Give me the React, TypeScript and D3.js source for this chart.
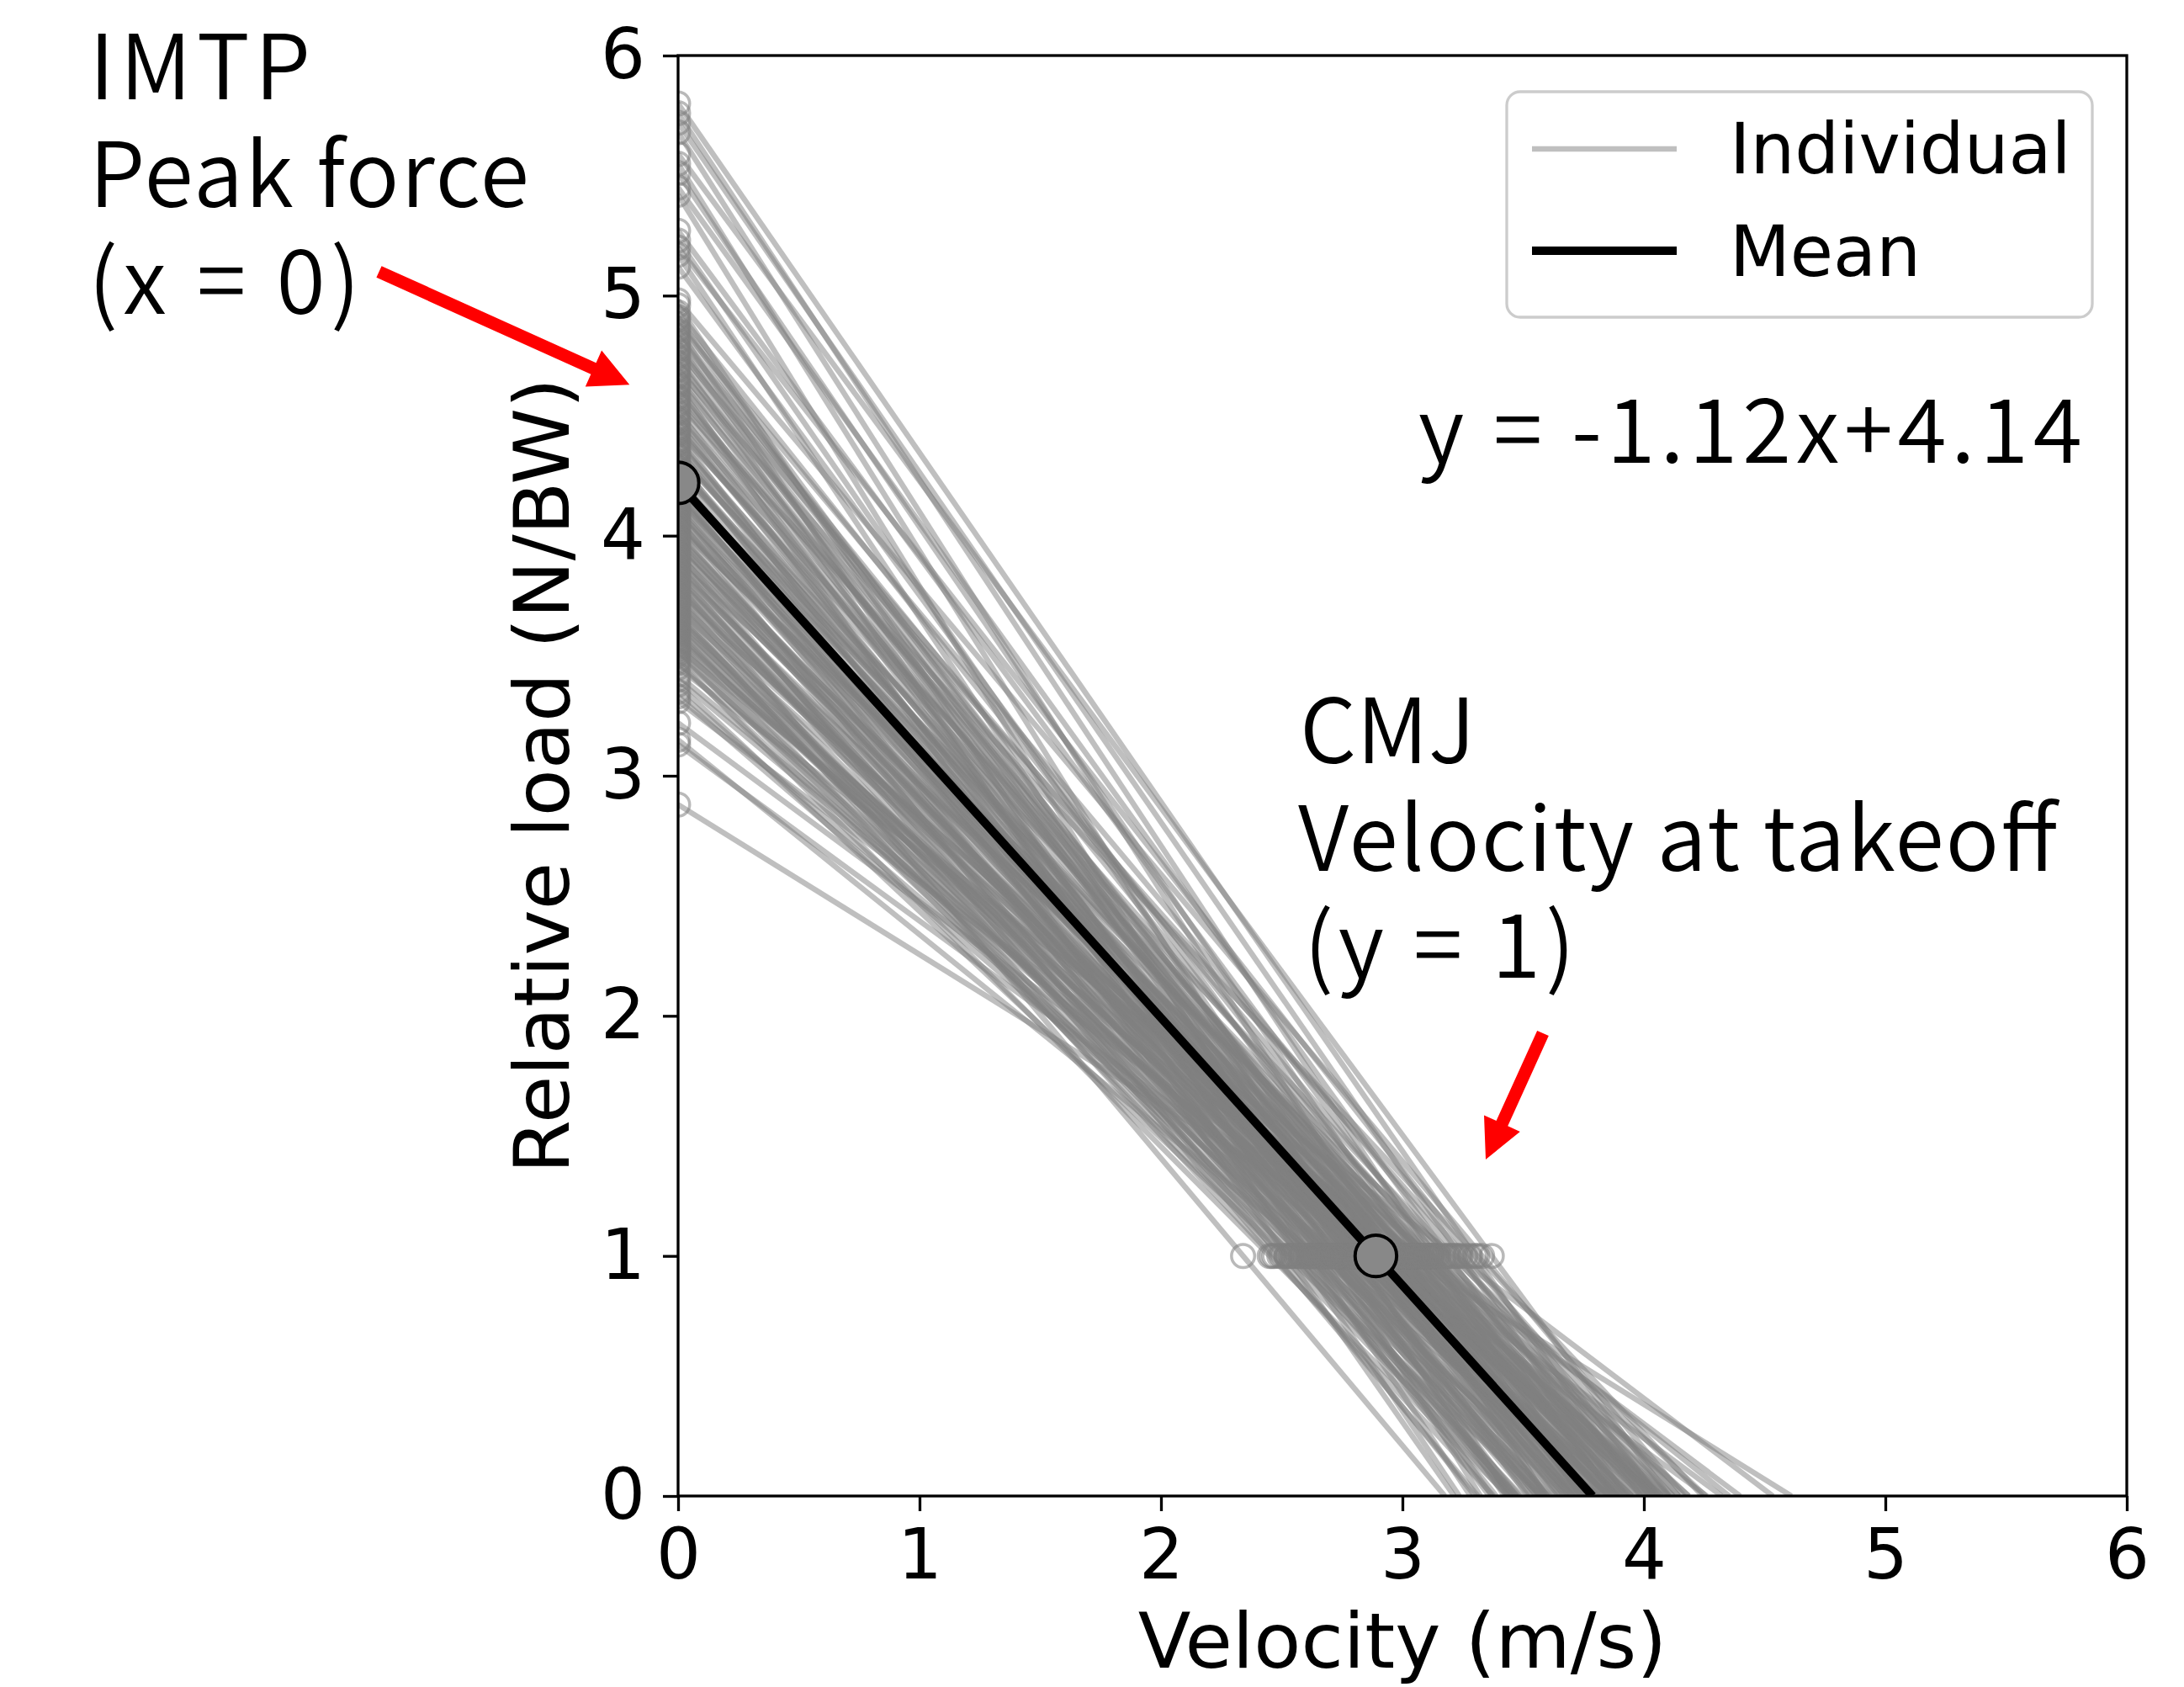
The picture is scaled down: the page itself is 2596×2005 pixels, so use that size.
import React, { useEffect, useRef } from "react";
import * as d3 from "d3";

// IMTP peak force per athlete, relative to body weight (y at x = 0)
const imtpForce = [
  5.80, 5.76, 5.72, 5.68, 5.59, 5.55, 5.51, 5.45, 5.42, 5.27, 5.23, 5.20, 5.17, 5.12,
  4.98, 4.96, 4.93, 4.91, 4.88, 4.86, 4.85, 4.83, 4.80, 4.78, 4.77, 4.74, 4.72, 4.70,
  4.69, 4.66, 4.64, 4.63, 4.60, 4.58, 4.57, 4.55, 4.52, 4.51, 4.49, 4.47, 4.45, 4.43,
  4.42, 4.40, 4.38, 4.36, 4.35, 4.33, 4.31, 4.29, 4.28, 4.26, 4.24, 4.23, 4.21, 4.19,
  4.17, 4.16, 4.14, 4.12, 4.10, 4.09, 4.07, 4.05, 4.03, 4.02, 4.00, 3.98, 3.96, 3.95,
  3.93, 3.91, 3.89, 3.88, 3.87, 3.86, 3.84, 3.83, 3.82, 3.80, 3.79, 3.78, 3.76, 3.75,
  3.74, 3.72, 3.71, 3.70, 3.68, 3.67, 3.66, 3.64, 3.63, 3.62, 3.60, 3.59, 3.58, 3.57,
  3.55, 3.53, 3.52, 3.51, 3.48, 3.45, 3.42, 3.38, 3.35, 3.31, 3.22, 3.15, 3.13, 2.88,
  4.90, 4.81, 4.75, 4.67, 4.62, 4.54, 4.48, 4.44, 4.39, 4.34, 4.30, 4.27, 4.22, 4.20,
  4.18, 4.15, 4.13, 4.11, 4.08, 4.06, 4.04, 4.01, 3.99, 3.97, 3.94, 3.92, 3.90, 3.85,
  3.81, 3.77, 3.73, 3.69, 3.65, 3.61, 3.56, 3.54, 3.50, 3.47, 3.40, 3.33,
];

// CMJ takeoff velocity per athlete, m/s (x at y = 1)
const cmjVelocity = [
  3.30, 3.12, 3.24, 2.96, 3.37, 2.82, 3.06, 3.19, 2.71, 3.14, 2.91, 3.28, 2.76, 3.01,
  3.33, 2.62, 3.11, 2.86, 3.23, 2.57, 2.97, 3.08, 2.73, 2.93, 3.18, 2.66, 3.02, 2.89,
  3.26, 2.79, 3.05, 2.52, 2.95, 3.15, 2.84, 3.31, 2.69, 2.99, 3.10, 2.77, 2.91, 3.21,
  2.60, 2.87, 3.04, 2.74, 2.94, 3.17, 2.64, 2.83, 3.09, 2.98, 2.70, 2.90, 3.13, 2.58,
  2.81, 3.00, 2.92, 2.67, 3.07, 2.85, 2.49, 2.96, 3.20, 2.75, 2.88, 2.61, 3.03, 2.80,
  2.47, 2.93, 3.11, 2.68, 2.71, 2.86, 2.54, 2.64, 2.99, 2.34, 2.95, 2.77, 2.90, 3.00,
  2.56, 3.06, 2.61, 2.72, 2.46, 2.53, 2.83, 2.63, 2.76, 2.95, 2.50, 2.93, 2.78, 2.88,
  2.59, 3.12, 2.55, 2.66, 2.45, 3.22, 2.87, 2.52, 2.74, 3.07, 2.98, 2.65, 2.90, 3.01,
  2.80, 3.00, 2.88, 2.97, 2.72, 3.03, 2.86, 3.08, 2.78, 2.99, 2.89, 3.12, 2.84, 2.95,
  2.73, 3.05, 2.89, 2.62, 2.98, 2.82, 3.10, 2.69, 2.91, 2.79, 3.04, 2.87, 2.58, 2.97,
  2.81, 2.92, 2.70, 2.99, 2.84, 2.68, 2.91, 2.73, 2.80, 2.62, 2.85, 2.70,
];

const meanForce = 4.22;
const meanVelocity = 2.89;
const fitLabel = "y = -1.12x+4.14";

const xTicks = [0, 1, 2, 3, 4, 5, 6];
const yTicks = [0, 1, 2, 3, 4, 5, 6];
const legendLabels = ["Individual", "Mean"];

const W = 2596;
const H = 2005;
const plot = { left: 806, right: 2528, top: 66, bottom: 1778 };

const dejavu = "'DejaVu Sans', sans-serif";
const noteFont = "'Noto Sans CJK JP', sans-serif";

function arrowPath(x1: number, y1: number, x2: number, y2: number, shaft = 15, headW = 47, headL = 47) {
  const dx = x2 - x1;
  const dy = y2 - y1;
  const len = Math.hypot(dx, dy);
  const ux = dx / len;
  const uy = dy / len;
  const nx = -uy;
  const ny = ux;
  const bx = x2 - ux * headL;
  const by = y2 - uy * headL;
  const p = d3.path();
  p.moveTo(x1 + (nx * shaft) / 2, y1 + (ny * shaft) / 2);
  p.lineTo(bx + (nx * shaft) / 2, by + (ny * shaft) / 2);
  p.lineTo(bx + (nx * headW) / 2, by + (ny * headW) / 2);
  p.lineTo(x2, y2);
  p.lineTo(bx - (nx * headW) / 2, by - (ny * headW) / 2);
  p.lineTo(bx - (nx * shaft) / 2, by - (ny * shaft) / 2);
  p.lineTo(x1 - (nx * shaft) / 2, y1 - (ny * shaft) / 2);
  p.closePath();
  return p.toString();
}

export default function App() {
  const xAxisRef = useRef<SVGGElement>(null);
  const yAxisRef = useRef<SVGGElement>(null);

  const x = d3.scaleLinear().domain([0, 6]).range([plot.left, plot.right]);
  const y = d3.scaleLinear().domain([0, 6]).range([plot.bottom, plot.top]);

  const line = d3
    .line<[number, number]>()
    .x((d) => x(d[0]))
    .y((d) => y(d[1]));

  // each athlete's line goes through (0, F0) and (v, 1), drawn down to y = 0
  const athletes = imtpForce.map((f, i) => {
    const v = cmjVelocity[i];
    return { f, v, x0: (v * f) / (f - 1) };
  });
  const meanX0 = (meanVelocity * meanForce) / (meanForce - 1);

  useEffect(() => {
    const gx = d3.select(xAxisRef.current);
    gx.call(
      d3.axisBottom(x).tickValues(xTicks).tickSize(18).tickPadding(21).tickSizeOuter(0).tickFormat(d3.format("d"))
    );
    gx.select(".domain").remove();
    gx.attr("font-size", 83.3).attr("font-family", dejavu);
    gx.selectAll(".tick line").attr("stroke", "#000").attr("stroke-width", 3.3);
    gx.selectAll(".tick text").attr("fill", "#000");

    const gy = d3.select(yAxisRef.current);
    gy.call(
      d3.axisLeft(y).tickValues(yTicks).tickSize(18).tickPadding(21).tickSizeOuter(0).tickFormat(d3.format("d"))
    );
    gy.select(".domain").remove();
    gy.attr("font-size", 83.3).attr("font-family", dejavu);
    gy.selectAll(".tick line").attr("stroke", "#000").attr("stroke-width", 3.3);
    gy.selectAll(".tick text").attr("fill", "#000");
  }, []);

  const notes = [
    { text: "IMTP", x: 106, y: 118, len: 263 },
    { text: "Peak force", x: 106, y: 246, len: 523 },
    { text: "(x = 0)", x: 105, y: 373, len: 323 },
    { text: "CMJ", x: 1545, y: 907, len: 209 },
    { text: "Velocity at takeoff", x: 1543, y: 1035, len: 902 },
    { text: "(y = 1)", x: 1550, y: 1162, len: 322 },
    { text: fitLabel, x: 1686, y: 550, len: 789 },
  ];

  return (
    <svg
      width={W}
      height={H}
      viewBox={`0 0 ${W} ${H}`}
      style={{ position: "absolute", left: 0, top: 0, display: "block", background: "#fff" }}
    >
      <defs>
        <clipPath id="plot-clip">
          <rect x={plot.left} y={plot.top} width={plot.right - plot.left} height={plot.bottom - plot.top} />
        </clipPath>
      </defs>
      <rect x={0} y={0} width={W} height={H} fill="#fff" />

      <g clipPath="url(#plot-clip)">
        {athletes.map((a, i) => (
          <path
            key={`l${i}`}
            d={line([
              [0, a.f],
              [a.x0, 0],
            ]) as string}
            fill="none"
            stroke="#808080"
            strokeOpacity={0.5}
            strokeWidth={6.5}
          />
        ))}
        {athletes.map((a, i) => (
          <g key={`m${i}`} fill="none" stroke="#808080" strokeOpacity={0.55} strokeWidth={3.5}>
            <circle cx={x(0)} cy={y(a.f)} r={13.75} />
            <circle cx={x(a.v)} cy={y(1)} r={13.75} />
          </g>
        ))}
        <path
          d={line([
            [0, meanForce],
            [meanX0, 0],
          ]) as string}
          fill="none"
          stroke="#000"
          strokeWidth={10}
        />
        <circle cx={x(0)} cy={y(meanForce)} r={24.7} fill="#888" stroke="#000" strokeWidth={4} />
        <circle cx={x(meanVelocity)} cy={y(1)} r={24.7} fill="#888" stroke="#000" strokeWidth={4} />
      </g>

      <rect
        x={plot.left}
        y={plot.top}
        width={plot.right - plot.left}
        height={plot.bottom - plot.top}
        fill="none"
        stroke="#000"
        strokeWidth={3.3}
      />
      <g ref={xAxisRef} transform={`translate(0,${plot.bottom})`} />
      <g ref={yAxisRef} transform={`translate(${plot.left},0)`} />

      <text
        x={(plot.left + plot.right) / 2}
        y={1982}
        textAnchor="middle"
        fontFamily={dejavu}
        fontSize={91.7}
        fill="#000"
      >
        Velocity (m/s)
      </text>
      <text
        transform={`translate(676,${(plot.top + plot.bottom) / 2}) rotate(-90)`}
        textAnchor="middle"
        fontFamily={dejavu}
        fontSize={91.7}
        fill="#000"
      >
        Relative load (N/BW)
      </text>

      {/* legend */}
      <g>
        <rect x={1791} y={109} width={696} height={268} rx={16} fill="#fff" fillOpacity={0.8} stroke="#cccccc" strokeWidth={3.3} />
        <line x1={1821} x2={1993} y1={177} y2={177} stroke="#808080" strokeOpacity={0.5} strokeWidth={6.5} />
        <line x1={1821} x2={1993} y1={298} y2={298} stroke="#000" strokeWidth={10} />
        {legendLabels.map((label, i) => (
          <text key={label} x={2056} y={206 + i * 122} fontFamily={dejavu} fontSize={83.3} fill="#000">
            {label}
          </text>
        ))}
      </g>

      {notes.map((n) => (
        <text
          key={n.text}
          x={n.x}
          y={n.y}
          fontFamily={noteFont}
          fontWeight={350}
          fontSize={106}
          textLength={n.len}
          lengthAdjust="spacing"
          fill="#000"
        >
          {n.text}
        </text>
      ))}

      <path d={arrowPath(450.5, 323, 748.3, 457.3)} fill="#ff0000" />
      <path d={arrowPath(1834, 1228, 1766, 1378)} fill="#ff0000" />
    </svg>
  );
}
